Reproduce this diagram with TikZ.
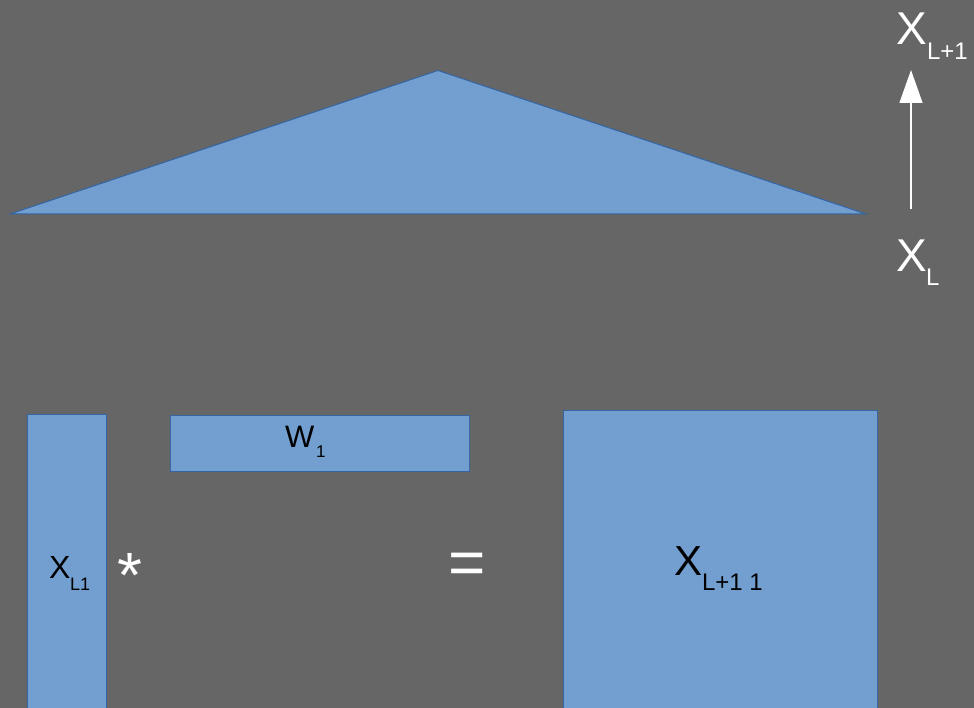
\documentclass[tikz,border=0pt]{standalone}
\usepackage{fontspec}
\setmainfont{Liberation Sans}
\usetikzlibrary{arrows.meta}
\definecolor{bggray}{HTML}{666666}
\definecolor{boxfill}{HTML}{729FCF}
\definecolor{boxline}{HTML}{3465A4}
\tikzset{
  blockshape/.style={fill=boxfill, draw=boxline, line width=1pt},
  txt/.style={inner sep=0pt, outer sep=0pt, anchor=base west},
  big/.style={txt, font=\fontsize{46}{46}\selectfont},
  bigsub/.style={txt, font=\fontsize{24}{24}\selectfont},
}
\begin{document}
\begin{tikzpicture}[x=1pt,y=-1pt]
\useasboundingbox (0,0) rectangle (974,708);
\clip (0,0) rectangle (974,708);
\fill[bggray] (0,0) rectangle (974,708);
% triangle
\draw[blockshape, line join=miter] (10,214) -- (438,70.5) -- (866,214) -- cycle;
% arrow
\coordinate (xlbot) at (911,209);
\coordinate (xltop) at (911,70);
\draw[white, line width=1.3pt, -{Triangle[width=23pt,length=33pt]}] (xlbot) -- (xltop);
\node[big, white] (xlp) at (896,45) {X};
\node[bigsub, white] (xlpsub) at (927,60) {L+1};
\node[big, white] (xl) at (896,272) {X};
\node[bigsub, white] (xlsub) at (926,286) {L};
% rectangles
\draw[blockshape] (27,414) rectangle (106,720);
\draw[blockshape] (170,415) rectangle (469,471);
\draw[blockshape] (563,410) rectangle (877,720);
% labels
\node[txt, font=\fontsize{32}{32}\selectfont] (xa) at (49,578) {X};
\node[txt, font=\fontsize{18}{18}\selectfont] (xasub) at (70,590) {L1};
\node[txt, font=\fontsize{31}{31}\selectfont] (w) at (285,447) {W};
\node[txt, font=\fontsize{17}{17}\selectfont] (wsub) at (316,457) {1};
\node[txt, font=\fontsize{42}{42}\selectfont] (xb) at (674,575) {X};
\node[txt, font=\fontsize{24}{24}\selectfont] (xbsub) at (702,590) {L+1 1};
\node[txt, white, font=\fontsize{64}{64}\selectfont] (star) at (117,597) {*};
\node[txt, white, font=\fontsize{64}{64}\selectfont] (eq) at (448,584) {=};
\end{tikzpicture}
\end{document}
